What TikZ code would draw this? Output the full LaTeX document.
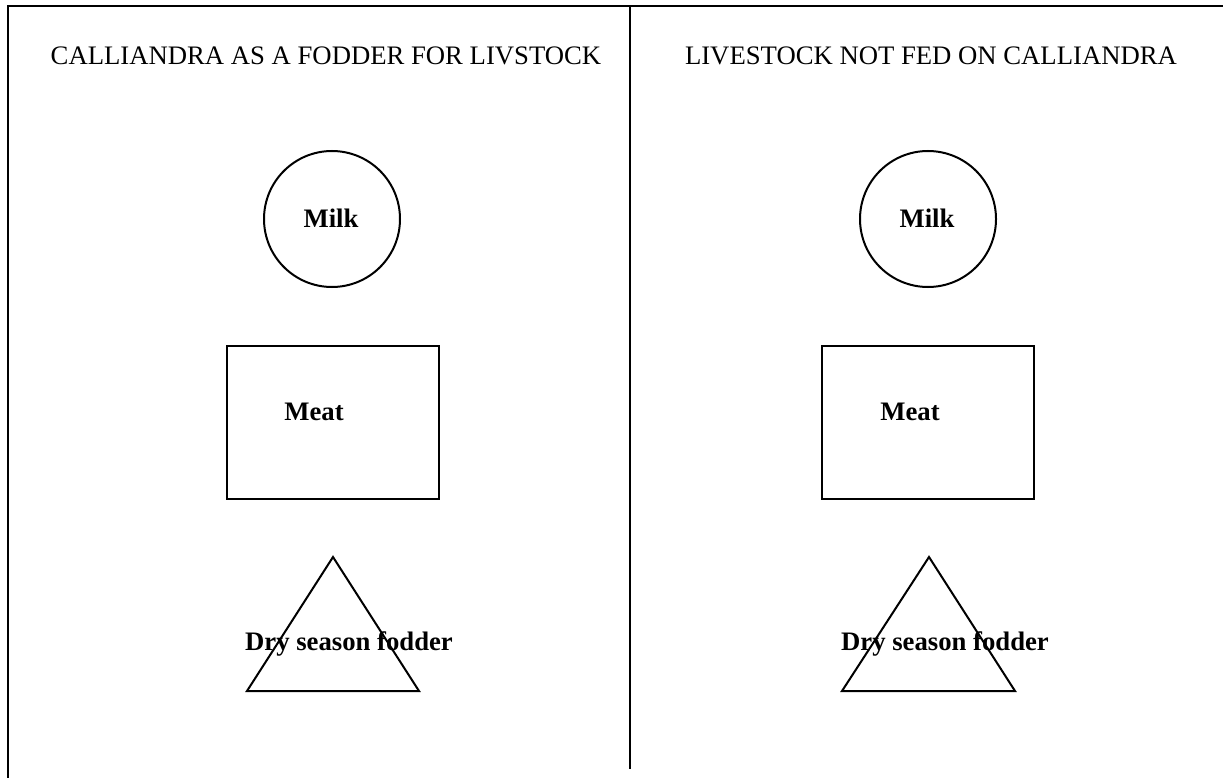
\documentclass[tikz,border=0pt]{standalone}
\usepackage{fontspec}
\setmainfont{Liberation Serif}
\usetikzlibrary{positioning}

\begin{document}
\begin{tikzpicture}[x=1pt,y=-1pt]
            \tikzstyle{every path}=[line width=2pt]
            \tikzstyle{frame}=[line width=2.6pt]
            \tikzstyle{heading}=[inner sep=0pt, anchor=base, font=\fontsize{26.7}{31}\selectfont]
            \tikzstyle{label}=[inner sep=0pt, anchor=base, font=\bfseries\fontsize{26.7}{31}\selectfont]
            \tikzstyle{product}=[circle, draw, minimum size=136pt, inner sep=0pt]
            \tikzstyle{meatbox}=[rectangle, draw, minimum width=212pt, minimum height=153pt, inner sep=0pt]

            \useasboundingbox (0,0) rectangle (1223,778);

            % outer frame and divider
            \coordinate (tl) at (8,6);
            \coordinate (tr) at (1223,6);
            \coordinate (bl) at (8,778);
            \coordinate (dtop) at (630,6);
            \coordinate (dbot) at (630,769);
            \draw[frame] (tr) -- (tl) -- (bl);
            \draw (dtop) -- (dbot);

            % left side
            \node[heading] (hleft) at (326,65) {CALLIANDRA AS A FODDER FOR LIVSTOCK};
            \node[product] (milkL) at (332,219) {};
            \node[label] (milkLtxt) at (331,227) {Milk};
            \node[meatbox] (meatL) at (333,422.5) {};
            \node[label] (meatLtxt) at (314,420) {Meat};
            \coordinate (tLa) at (333,557);
            \coordinate (tLb) at (419,691);
            \coordinate (tLc) at (247,691);
            \draw (tLa) -- (tLb) -- (tLc) -- cycle;
            \node[label] (dryLtxt) at (349,650) {Dry season fodder};

            % right side
            \node[heading] (hright) at (931,65) {LIVESTOCK NOT FED ON CALLIANDRA};
            \node[product] (milkR) at (928,219) {};
            \node[label] (milkRtxt) at (927,227) {Milk};
            \node[meatbox] (meatR) at (928,422.5) {};
            \node[label] (meatRtxt) at (910,420) {Meat};
            \coordinate (tRa) at (929,557);
            \coordinate (tRb) at (1015,691);
            \coordinate (tRc) at (842,691);
            \draw (tRa) -- (tRb) -- (tRc) -- cycle;
            \node[label] (dryRtxt) at (945,650) {Dry season fodder};

\end{tikzpicture}
\end{document}
